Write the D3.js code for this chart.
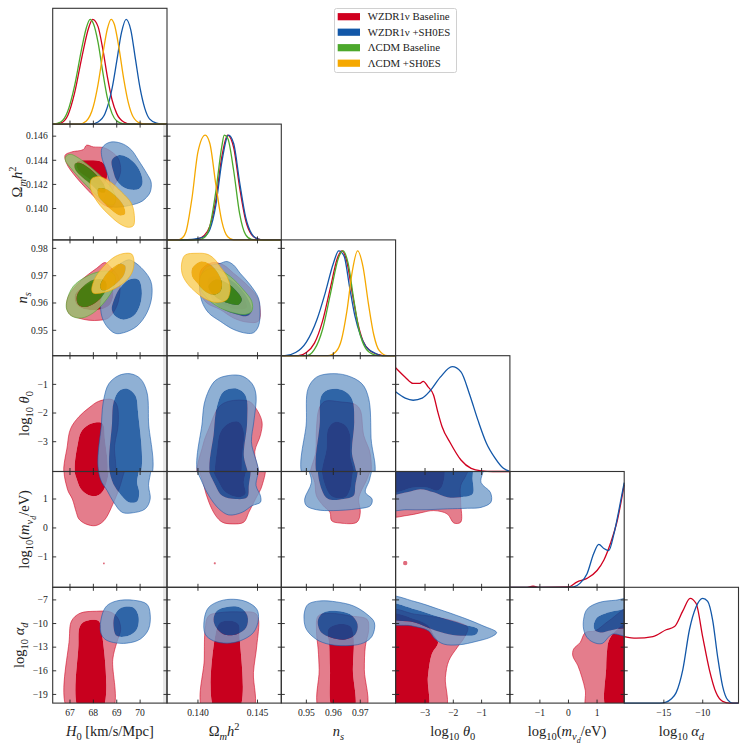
<!DOCTYPE html>
<html>
<head>
<meta charset="utf-8">
<title>WZDR1nu triangle plot</title>
<style>
  body { margin:0; background:#fff; }
  svg text { font-family: "Liberation Serif", "DejaVu Serif", serif; fill:#222; }
  .frame { fill:none; stroke:#333; stroke-width:1.1; }
  .tick { stroke:#222; stroke-width:0.9; }
  .ticklab { font-size:9.6px; }
  .axlab { font-size:14.5px; }
  .leg { font-size:10.8px; }
</style>
</head>
<body>
<script src="https://cdn.jsdelivr.net/npm/d3@7"></script>
<script>
// ---- parameters ----
var domains = [[66.26,71.15],[0.1374,0.1470],[0.9407,0.9831],[-4.04,0.0],[-2.05,1.95],[-20.1,-5.4]];
var xTicks = [[67,68,69,70],[0.140,0.145],[0.95,0.96,0.97],[-3,-2,-1],[-1,0,1],[-15,-10]];
var yTicks = [[],[0.140,0.142,0.144,0.146],[0.95,0.96,0.97,0.98],[-3,-2,-1],[-1,0,1],[-19,-16,-13,-10,-7]];
var tickFormats = ["d",".3f",".2f","d","d","d"];

var seriesNames = ["WZDR1\u03bd Baseline","WZDR1\u03bd +SH0ES","\u039bCDM Baseline","\u039bCDM +SH0ES"];
var innerColors = ["#c8001e","#0a4a98","#3c8a10","#eea600"];
var outerColors = ["#dd5c6f","#739cc9","#95c16f","#f9cd56"];
var lineColors = ["#d0001f","#1257a8","#4ca82c","#f5a800"];

// ---- 1D marginals [value, relative density] ----
var H0_pdf = [
 [[66.26,0],[66.6,0.01],[66.9,0.08],[67.2,0.3],[67.5,0.63],[67.8,0.92],[67.97,1],[68.2,0.93],[68.4,0.72],[68.6,0.45],[68.8,0.23],[69.0,0.1],[69.3,0.02],[69.6,0],[71.15,0]],
 [[66.26,0],[67.9,0],[68.2,0.02],[68.5,0.1],[68.8,0.34],[69.0,0.6],[69.2,0.87],[69.4,1],[69.6,0.9],[69.8,0.62],[70.0,0.34],[70.2,0.15],[70.4,0.05],[70.7,0.01],[71.0,0],[71.15,0]],
 [[66.26,0],[66.6,0.02],[66.9,0.12],[67.2,0.37],[67.5,0.72],[67.7,0.92],[67.86,1],[68.0,0.96],[68.2,0.78],[68.4,0.5],[68.6,0.25],[68.8,0.1],[69.0,0.03],[69.3,0.003],[69.6,0],[71.15,0]],
 [[66.26,0],[67.4,0],[67.7,0.03],[68.0,0.17],[68.2,0.38],[68.4,0.66],[68.6,0.91],[68.76,1],[68.9,0.95],[69.1,0.72],[69.3,0.43],[69.5,0.2],[69.7,0.07],[70.0,0.01],[70.3,0],[71.15,0]]
];
var Om_pdf = [
 [[0.1374,0],[0.1395,0],[0.1400,0.01],[0.1405,0.04],[0.1410,0.13],[0.1415,0.38],[0.1420,0.79],[0.14249,1],[0.1430,0.88],[0.1435,0.5],[0.1440,0.19],[0.1445,0.05],[0.1450,0.01],[0.1455,0],[0.1470,0]],
 [[0.1374,0],[0.1395,0.005],[0.1400,0.015],[0.1405,0.03],[0.1410,0.1],[0.1415,0.33],[0.1420,0.74],[0.14257,1],[0.1430,0.92],[0.1435,0.55],[0.1440,0.22],[0.1445,0.06],[0.1450,0.01],[0.1455,0],[0.1470,0]],
 [[0.1374,0],[0.1400,0],[0.1405,0.02],[0.1410,0.13],[0.1415,0.46],[0.1420,0.89],[0.14221,1],[0.1425,0.97],[0.1430,0.66],[0.1435,0.25],[0.1440,0.05],[0.1445,0.005],[0.1450,0],[0.1470,0]],
 [[0.1374,0],[0.1383,0],[0.1387,0.02],[0.1390,0.08],[0.1395,0.4],[0.1400,0.84],[0.14061,1],[0.1410,0.92],[0.1415,0.53],[0.1420,0.18],[0.1425,0.03],[0.1430,0],[0.1470,0]]
];
var ns_pdf = [
 [[0.9407,0],[0.947,0],[0.950,0.03],[0.953,0.12],[0.956,0.33],[0.959,0.66],[0.9615,0.93],[0.9632,1],[0.965,0.9],[0.967,0.6],[0.969,0.32],[0.971,0.14],[0.974,0.04],[0.977,0.01],[0.979,0],[0.9831,0]],
 [[0.9407,0],[0.942,0],[0.946,0.03],[0.950,0.13],[0.954,0.35],[0.957,0.6],[0.960,0.88],[0.962,1],[0.964,0.95],[0.966,0.66],[0.968,0.38],[0.970,0.2],[0.972,0.09],[0.975,0.03],[0.978,0],[0.9831,0]],
 [[0.9407,0],[0.950,0],[0.953,0.06],[0.956,0.25],[0.959,0.6],[0.962,0.94],[0.9636,1],[0.9655,0.88],[0.9675,0.55],[0.9695,0.25],[0.972,0.07],[0.975,0.01],[0.977,0],[0.9831,0]],
 [[0.9407,0],[0.958,0],[0.961,0.04],[0.963,0.15],[0.965,0.42],[0.967,0.8],[0.969,1],[0.971,0.85],[0.973,0.5],[0.975,0.2],[0.977,0.05],[0.980,0],[0.9831,0]]
];
var th_pdf = [
 [[-4.04,0.99],[-3.7,0.9],[-3.42,0.84],[-3.2,0.84],[-3.06,0.86],[-2.9,0.81],[-2.7,0.73],[-2.55,0.57],[-2.4,0.43],[-2.1,0.27],[-1.73,0.11],[-1.37,0.03],[-1.01,0.006],[-0.6,0],[0,0]],
 [[-4.04,0.76],[-3.7,0.7],[-3.42,0.68],[-3.1,0.7],[-2.82,0.77],[-2.46,0.9],[-2.04,1],[-1.73,0.95],[-1.43,0.74],[-1.13,0.49],[-0.83,0.27],[-0.53,0.13],[-0.23,0.03],[0,0]]
];
var mv_pdf = [
 [[-2.05,0],[-1.5,0],[-1.24,0.01],[-1.0,0],[0,0.003],[0.29,0.05],[0.65,0.085],[1.0,0.16],[1.24,0.26],[1.47,0.42],[1.71,0.64],[1.95,0.98]],
 [[-2.05,0],[0,0],[0.18,0.003],[0.41,0.04],[0.65,0.13],[0.88,0.32],[1.06,0.41],[1.24,0.37],[1.41,0.35],[1.59,0.51],[1.76,0.73],[1.95,1]]
];
var ad_pdf = [
 [[-20.1,0.635],[-18.55,0.62],[-16.41,0.635],[-14.7,0.7],[-13.63,0.73],[-12.56,0.88],[-11.62,1],[-10.85,0.95],[-10,0.63],[-9.15,0.32],[-8.29,0.1],[-7.44,0.016],[-6.58,0],[-5.4,0]],
 [[-20.1,0],[-15.5,0],[-14.7,0.01],[-14.06,0.04],[-13.42,0.1],[-12.56,0.32],[-11.71,0.7],[-10.85,0.92],[-10,1],[-9.36,0.97],[-8.72,0.79],[-8.08,0.44],[-7.44,0.16],[-6.79,0.03],[-6.15,0],[-5.4,0]]
];

// ---- 2D contours: [outer 95% polygon, inner 68% polygon], [x, y] in data units ----
// row Om, col H0
var H0_Om_red = [
 [[66.79,0.14442],[67.07,0.14469],[67.57,0.14489],[67.71,0.14525],[68.0,0.14511],[68.43,0.14505],[68.79,0.14469],[69.07,0.14414],[69.17,0.14316],[69.07,0.14247],[68.9,0.14191],[68.81,0.14122],[68.93,0.14038],[68.79,0.14011],[68.5,0.14025],[68.14,0.14080],[67.64,0.14177],[67.14,0.14289],[66.86,0.14372]],
 [[67.29,0.14386],[67.86,0.14400],[68.36,0.14386],[68.57,0.14330],[68.57,0.14247],[68.43,0.14191],[68.14,0.14205],[67.71,0.14261],[67.36,0.14316]]];
var H0_Om_blue = [
 [[68.36,0.14497],[68.57,0.14539],[68.86,0.14553],[69.29,0.14533],[69.64,0.14483],[69.93,0.14400],[70.29,0.14289],[70.47,0.14219],[70.43,0.14136],[70.21,0.14080],[70.0,0.14052],[69.71,0.14033],[69.29,0.14016],[68.93,0.14011],[68.64,0.14025],[68.5,0.14066],[68.57,0.14136],[68.71,0.14191],[68.64,0.14261],[68.5,0.14344],[68.36,0.14428]],
 [[68.79,0.14400],[69.07,0.14442],[69.43,0.14428],[69.79,0.14372],[70.04,0.14289],[70.1,0.14205],[69.96,0.14164],[69.64,0.14155],[69.29,0.14177],[69.0,0.14233],[68.86,0.14303]]];
var H0_Om_green = [
 [[66.81,0.14428],[67.0,0.14450],[67.29,0.14428],[67.79,0.14358],[68.36,0.14261],[68.79,0.14164],[68.96,0.14080],[68.86,0.14033],[68.57,0.14038],[68.07,0.14122],[67.5,0.14233],[67.0,0.14344],[66.81,0.14394]],
 [[67.21,0.14372],[67.43,0.14378],[67.79,0.14339],[68.21,0.14261],[68.5,0.14177],[68.5,0.14136],[68.29,0.14136],[67.86,0.14205],[67.43,0.14275],[67.21,0.14330]]];
var H0_Om_orange = [
 [[67.93,0.14247],[68.21,0.14266],[68.64,0.14233],[69.21,0.14136],[69.64,0.14038],[69.76,0.13913],[69.71,0.13858],[69.5,0.13844],[69.14,0.13872],[68.71,0.13941],[68.29,0.14025],[67.93,0.14136],[67.86,0.14205]],
 [[68.21,0.14164],[68.5,0.14164],[68.93,0.14108],[69.29,0.14025],[69.36,0.13955],[69.14,0.13941],[68.79,0.13983],[68.43,0.14052],[68.21,0.14108]]];

// row ns, col H0
var H0_ns_red = [
 [[66.93,0.9624],[67.43,0.9679],[68.14,0.9727],[68.5,0.9748],[68.71,0.9733],[69.07,0.9697],[69.14,0.9648],[69.0,0.9588],[68.64,0.9545],[68.29,0.9537],[67.79,0.9537],[67.36,0.9545],[67.0,0.9558],[66.86,0.9582]],
 [[67.21,0.9630],[67.71,0.9667],[68.29,0.9685],[68.71,0.9673],[68.86,0.9636],[68.71,0.9594],[68.29,0.9576],[67.71,0.9576],[67.29,0.9594]]];
var H0_ns_blue = [
 [[68.57,0.9685],[69.0,0.9733],[69.5,0.9758],[69.71,0.9752],[70.14,0.9721],[70.46,0.9679],[70.5,0.9624],[70.29,0.9564],[69.86,0.9515],[69.29,0.9491],[68.93,0.9489],[68.57,0.9515],[68.36,0.9552],[68.31,0.9600],[68.4,0.9642]],
 [[68.86,0.9606],[69.14,0.9655],[69.57,0.9687],[69.93,0.9685],[70.07,0.9648],[70.0,0.9594],[69.71,0.9552],[69.29,0.9539],[68.93,0.9552],[68.79,0.9576]]];
var H0_ns_green = [
 [[66.86,0.9606],[67.14,0.9661],[67.71,0.9697],[68.29,0.9715],[68.71,0.9715],[68.93,0.9697],[68.86,0.9655],[68.5,0.9606],[68.0,0.9564],[67.5,0.9545],[67.07,0.9552],[66.86,0.9576]],
 [[67.29,0.9624],[67.57,0.9661],[68.0,0.9685],[68.43,0.9685],[68.57,0.9667],[68.43,0.9630],[68.07,0.9600],[67.64,0.9585],[67.36,0.9594]]];
var H0_ns_orange = [
 [[67.93,0.9648],[68.07,0.9691],[68.43,0.9733],[68.93,0.9770],[69.36,0.9782],[69.64,0.9779],[69.74,0.9752],[69.64,0.9709],[69.29,0.9673],[68.79,0.9648],[68.29,0.9636],[68.0,0.9636]],
 [[68.29,0.9661],[68.43,0.9691],[68.79,0.9727],[69.14,0.9745],[69.36,0.9736],[69.31,0.9703],[69.0,0.9673],[68.57,0.9648],[68.36,0.9648]]];

// row ns, col Om
var Om_ns_red = [
 [[0.14020,0.9715],[0.14061,0.9736],[0.14131,0.9748],[0.14215,0.9739],[0.14299,0.9709],[0.14396,0.9673],[0.14494,0.9624],[0.14522,0.9576],[0.14508,0.9533],[0.14410,0.9530],[0.14299,0.9545],[0.14187,0.9576],[0.14075,0.9600],[0.14020,0.9636],[0.14014,0.9685]],
 [[0.14131,0.9667],[0.14215,0.9673],[0.14326,0.9648],[0.14396,0.9612],[0.14410,0.9582],[0.14354,0.9576],[0.14271,0.9582],[0.14173,0.9606],[0.14131,0.9636]]];
var Om_ns_blue = [
 [[0.14075,0.9733],[0.14187,0.9745],[0.14243,0.9752],[0.14299,0.9739],[0.14354,0.9709],[0.14438,0.9667],[0.14508,0.9618],[0.14522,0.9570],[0.14508,0.9515],[0.14466,0.9491],[0.14410,0.9489],[0.14299,0.9503],[0.14187,0.9533],[0.14089,0.9564],[0.14033,0.9606],[0.14014,0.9661],[0.14033,0.9709]],
 [[0.14089,0.9691],[0.14187,0.9697],[0.14271,0.9685],[0.14354,0.9655],[0.14424,0.9612],[0.14452,0.9570],[0.14410,0.9552],[0.14326,0.9558],[0.14215,0.9576],[0.14131,0.9606],[0.14089,0.9648]]];
var Om_ns_green = [
 [[0.14020,0.9697],[0.14075,0.9721],[0.14159,0.9724],[0.14271,0.9697],[0.14382,0.9648],[0.14452,0.9606],[0.14452,0.9570],[0.14396,0.9558],[0.14299,0.9564],[0.14187,0.9582],[0.14089,0.9612],[0.14020,0.9655]],
 [[0.14089,0.9661],[0.14145,0.9685],[0.14243,0.9673],[0.14326,0.9642],[0.14368,0.9612],[0.14340,0.9594],[0.14271,0.9597],[0.14187,0.9612],[0.14117,0.9636]]];
var Om_ns_orange = [
 [[0.13866,0.9752],[0.13894,0.9776],[0.13992,0.9782],[0.14075,0.9779],[0.14131,0.9764],[0.14187,0.9733],[0.14243,0.9697],[0.14271,0.9655],[0.14243,0.9612],[0.14159,0.9602],[0.14075,0.9612],[0.13992,0.9636],[0.13908,0.9673],[0.13866,0.9709]],
 [[0.13950,0.9727],[0.14020,0.9752],[0.14089,0.9745],[0.14159,0.9715],[0.14201,0.9673],[0.14187,0.9642],[0.14131,0.9630],[0.14061,0.9642],[0.13992,0.9673],[0.13950,0.9697]]];

// row log10 theta0
var H0_th_red = [
 [[66.84,-4.3],[66.89,-3.12],[67.03,-2.54],[67.38,-2.13],[67.81,-1.82],[68.23,-1.59],[68.8,-1.53],[69.01,-1.73],[69.06,-2.42],[68.91,-3.12],[68.83,-4.3]],
 [[67.31,-4.3],[67.35,-3.0],[67.52,-2.6],[67.95,-2.36],[68.38,-2.36],[68.49,-2.88],[68.49,-4.3]]];
var H0_th_blue = [
 [[68.38,-4.3],[68.35,-2.31],[68.45,-1.5],[68.66,-0.98],[69.09,-0.69],[69.58,-0.63],[70.01,-0.8],[70.29,-1.27],[70.36,-2.31],[70.39,-4.3]],
 [[68.83,-4.3],[68.8,-2.31],[68.87,-1.61],[69.09,-1.24],[69.44,-1.15],[69.79,-1.38],[69.91,-1.96],[69.91,-4.3]]];
var Om_th_red = [
 [[0.14008,-4.3],[0.14042,-3.12],[0.14092,-2.54],[0.14176,-1.79],[0.14259,-1.59],[0.14427,-1.59],[0.14488,-1.84],[0.14538,-2.31],[0.14525,-2.77],[0.14477,-3.35],[0.14497,-4.3]],
 [[0.14162,-4.3],[0.14162,-3.23],[0.1419,-2.65],[0.14259,-2.36],[0.14343,-2.31],[0.14385,-2.65],[0.14371,-3.46],[0.14343,-4.3]]];
var Om_th_blue = [
 [[0.14022,-4.3],[0.14036,-2.31],[0.14064,-1.5],[0.14148,-0.86],[0.14259,-0.69],[0.14371,-0.71],[0.14455,-0.98],[0.14488,-1.38],[0.14469,-2.31],[0.14449,-3.0],[0.14497,-4.3]],
 [[0.1412,-4.3],[0.14134,-2.65],[0.14162,-1.73],[0.14218,-1.24],[0.14329,-1.15],[0.14399,-1.38],[0.14413,-2.31],[0.14385,-3.46],[0.14413,-4.3]]];
var ns_th_red = [
 [[0.95188,-4.3],[0.9535,-3.35],[0.95375,-2.54],[0.95475,-1.84],[0.95688,-1.59],[0.9625,-1.61],[0.96813,-1.7],[0.97,-1.9],[0.97125,-2.77],[0.97375,-3.46],[0.97275,-4.3]],
 [[0.95625,-4.3],[0.9575,-3.23],[0.95813,-2.54],[0.96063,-2.31],[0.96438,-2.42],[0.96625,-2.77],[0.96625,-3.46],[0.9675,-4.3]]];
var ns_th_blue = [
 [[0.94938,-4.3],[0.95,-2.31],[0.95063,-1.15],[0.95375,-0.75],[0.95875,-0.63],[0.965,-0.69],[0.97063,-0.98],[0.97313,-1.5],[0.974,-2.88],[0.97438,-4.3]],
 [[0.95475,-4.3],[0.955,-2.31],[0.95563,-1.38],[0.95875,-1.17],[0.96375,-1.21],[0.96688,-1.5],[0.96775,-2.31],[0.96688,-3.35],[0.96813,-4.3]]];

// row log10 m_nu_d
var H0_mv_red = [
 [[66.84,2.2],[66.89,1.34],[67.1,1.0],[67.27,0.54],[67.38,0.31],[67.67,0.14],[68.09,0.08],[68.45,0.25],[68.87,0.89],[69.23,1.69],[69.3,2.2]],
 [[67.21,2.2],[67.31,1.63],[67.52,1.29],[67.88,1.11],[68.23,1.14],[68.49,1.4],[68.59,2.2]]];
var H0_mv_blue = [
 [[68.28,2.2],[68.3,1.69],[68.59,1.29],[68.87,0.89],[69.23,0.54],[69.65,0.52],[70.22,0.66],[70.43,1.0],[70.36,1.46],[70.39,2.2]],
 [[68.73,2.2],[68.8,1.63],[69.09,1.23],[69.51,0.89],[69.87,0.91],[69.96,1.23],[69.87,1.57],[69.91,2.2]]];
var Om_mv_red = [
 [[0.14022,2.2],[0.1405,1.46],[0.14092,0.89],[0.14148,0.43],[0.14204,0.2],[0.14287,0.14],[0.14385,0.2],[0.14427,0.54],[0.14483,1.0],[0.14538,1.46],[0.14552,2.2]],
 [[0.1412,2.2],[0.14176,1.57],[0.14232,1.23],[0.14343,1.06],[0.14399,1.17],[0.14385,1.57],[0.14399,2.2]]];
var Om_mv_blue = [
 [[0.13994,2.2],[0.14036,1.57],[0.14092,1.11],[0.14176,0.66],[0.14259,0.45],[0.14371,0.54],[0.14455,0.77],[0.14525,0.89],[0.14525,1.11],[0.14488,1.46],[0.14497,2.2]],
 [[0.14092,2.2],[0.14148,1.46],[0.14204,1.11],[0.14315,1.0],[0.14413,1.06],[0.14427,1.46],[0.14427,2.2]]];
var ns_mv_red = [
 [[0.9515,2.2],[0.95313,1.57],[0.95375,1.11],[0.95625,0.77],[0.95875,0.54],[0.95938,0.25],[0.9625,0.17],[0.96875,0.2],[0.97,0.54],[0.96938,1.0],[0.97063,1.34],[0.9725,1.69],[0.9735,2.2]],
 [[0.95625,2.2],[0.9575,1.34],[0.96,1.06],[0.96438,1.06],[0.96625,1.34],[0.96688,1.69],[0.96688,2.2]]];
var ns_mv_blue = [
 [[0.95125,2.2],[0.95188,1.57],[0.94938,1.0],[0.95,0.77],[0.95375,0.63],[0.96,0.6],[0.96875,0.66],[0.97375,0.77],[0.97438,1.0],[0.97188,1.23],[0.9735,1.69],[0.97375,2.2]],
 [[0.955,2.2],[0.95563,1.34],[0.95813,1.0],[0.96375,1.0],[0.9675,1.11],[0.96813,1.46],[0.9685,2.2]]];
var th_mv_red = [
 [[-4.3,2.2],[-4.3,0.43],[-3.64,0.43],[-3.17,0.52],[-2.69,0.6],[-2.21,0.48],[-1.98,0.17],[-1.74,0.2],[-1.74,0.89],[-1.74,1.46],[-1.56,1.8],[-1.44,2.2]],
 [[-4.3,2.2],[-4.3,1.23],[-3.4,1.4],[-2.93,1.4],[-2.57,1.29],[-2.39,1.46],[-2.39,2.2]]];
var th_mv_blue = [
 [[-4.3,2.2],[-4.3,0.66],[-3.64,0.63],[-2.93,0.63],[-2.21,0.66],[-1.5,0.68],[-1.02,0.71],[-0.67,0.89],[-0.69,1.23],[-1.02,1.57],[-0.96,2.2]],
 [[-4.3,2.2],[-4.3,1.17],[-3.64,1.23],[-3.17,1.34],[-2.69,1.23],[-2.21,1.06],[-1.74,1.06],[-1.32,1.17],[-1.32,1.69],[-1.38,2.2]]];
// small isolated 95% islands of the red posterior
var mv_islands_red = [
 {col:0, pts:[[68.42,-1.2],[68.48,-1.2],[68.48,-1.25],[68.42,-1.25]]},
 {col:1, pts:[[0.14135,-1.19],[0.14148,-1.19],[0.14148,-1.25],[0.14135,-1.25]]},
 {col:3, pts:[[-3.76,-1.16],[-3.64,-1.16],[-3.64,-1.27],[-3.76,-1.27]]}
];

// row log10 alpha_d
var H0_ad_red = [
 [[66.93,-21],[66.97,-11.99],[67.07,-9.66],[67.43,-8.69],[68.14,-8.44],[68.71,-8.52],[69.03,-9.24],[69.17,-10.72],[69.0,-12.41],[68.83,-14.52],[68.79,-21]],
 [[67.4,-21],[67.36,-12.83],[67.43,-10.3],[67.71,-9.66],[68.21,-9.66],[68.36,-11.14],[68.36,-21]]];
var H0_ad_blue = [
 [[68.31,-11.14],[68.36,-9.03],[68.57,-7.76],[69.0,-7.13],[69.71,-7.04],[70.29,-7.55],[70.43,-8.82],[70.36,-10.72],[70.0,-11.99],[69.43,-12.49],[68.86,-12.41],[68.5,-11.99]],
 [[68.86,-10.3],[68.93,-8.82],[69.21,-7.97],[69.71,-7.97],[69.93,-9.03],[69.86,-10.72],[69.5,-11.56],[69.0,-11.56]]];
var Om_ad_red = [
 [[0.14047,-21],[0.14053,-14.52],[0.14061,-10.72],[0.14089,-9.03],[0.14187,-8.61],[0.14354,-8.52],[0.1448,-8.69],[0.14508,-9.45],[0.14494,-12.83],[0.14466,-16.21],[0.14458,-21]],
 [[0.14145,-21],[0.14145,-11.56],[0.14187,-9.87],[0.14271,-9.66],[0.1434,-10.08],[0.14349,-11.56],[0.1434,-21]]];
var Om_ad_blue = [
 [[0.14053,-9.45],[0.14089,-7.97],[0.14187,-7.13],[0.14299,-6.92],[0.1441,-7.25],[0.14494,-8.18],[0.14508,-9.45],[0.14466,-11.14],[0.14354,-12.2],[0.14243,-12.49],[0.14131,-12.2],[0.14061,-11.35]],
 [[0.14131,-9.45],[0.14159,-8.39],[0.14243,-7.89],[0.14354,-7.97],[0.14416,-9.03],[0.14405,-10.51],[0.14326,-11.35],[0.14215,-11.35],[0.14153,-10.51]]];
var ns_ad_red = [
 [[0.955,-21],[0.95475,-15.85],[0.95438,-13.3],[0.95375,-10.96],[0.95438,-9.04],[0.95875,-8.7],[0.96625,-9.04],[0.9725,-9.47],[0.97313,-10.74],[0.97188,-12.87],[0.9715,-15.85],[0.97188,-21]],
 [[0.96,-21],[0.95875,-15.85],[0.9585,-12.87],[0.95813,-10.74],[0.96125,-10.11],[0.96625,-10.32],[0.9675,-11.6],[0.96725,-15.85],[0.9675,-21]]];
var ns_ad_blue = [
 [[0.94938,-8.4],[0.95063,-7.55],[0.955,-7.13],[0.96125,-7.26],[0.9675,-7.77],[0.9725,-8.83],[0.97525,-9.89],[0.97438,-11.6],[0.97125,-12.45],[0.96625,-12.79],[0.95875,-12.66],[0.95375,-12.02],[0.95,-10.74],[0.94913,-9.47]],
 [[0.95438,-9.47],[0.95625,-8.62],[0.96125,-8.4],[0.96625,-8.83],[0.969,-10.11],[0.96813,-11.38],[0.96438,-12.02],[0.95938,-11.81],[0.95563,-11.18],[0.95438,-10.32]]];
var th_ad_red = [
 [[-4.3,-8.39],[-3.36,-8.81],[-2.52,-9.24],[-1.8,-9.87],[-1.49,-10.5],[-1.61,-11.77],[-1.86,-13.03],[-2.16,-14.72],[-2.28,-16.83],[-2.3,-21],[-4.3,-21]],
 [[-4.3,-8.9],[-3.36,-9.45],[-2.88,-10.29],[-2.7,-11.35],[-2.54,-12.4],[-2.76,-13.88],[-2.9,-16.83],[-2.94,-21],[-4.3,-21]]];
var th_ad_blue = [
 [[-4.3,-6.62],[-3.36,-7.21],[-2.52,-8.18],[-1.67,-9.24],[-0.95,-10.29],[-0.47,-11.14],[-0.65,-11.68],[-1.19,-12.27],[-1.8,-12.7],[-2.34,-12.61],[-2.66,-11.89],[-2.88,-10.92],[-3.48,-10.29],[-4.3,-9.87]],
 [[-4.3,-7.46],[-3.36,-8.18],[-2.52,-9.15],[-1.67,-10.08],[-1.13,-10.71],[-1.19,-11.35],[-1.55,-11.56],[-2.16,-11.35],[-2.76,-10.71],[-3.36,-9.87],[-4.3,-9.24]]];
var mv_ad_red = [
 [[2.2,-7.97],[1.41,-9.66],[0.94,-10.92],[0.59,-11.14],[0.41,-12.4],[0.18,-13.24],[0.15,-14.09],[0.33,-15.35],[0.47,-16.83],[0.59,-18.52],[0.65,-21],[2.2,-21]],
 [[2.2,-9.66],[1.65,-10.92],[1.41,-12.19],[1.35,-13.46],[1.32,-15.57],[1.35,-21],[2.2,-21]]];
var mv_ad_blue = [
 [[0.53,-9.45],[0.65,-8.18],[1.06,-7.34],[1.65,-7.04],[2.2,-6.92],[2.2,-11.56],[1.53,-11.35],[1.18,-12.53],[0.88,-12.4],[0.65,-11.77],[0.53,-10.71]],
 [[0.88,-10.29],[1.0,-9.24],[1.29,-8.73],[1.65,-8.39],[2.2,-8.18],[2.2,-10.29],[1.65,-10.71],[1.41,-10.92],[1.18,-11.14],[0.94,-10.92]]];

// ---- layout ----
var W = 747, H = 747;
var x0 = 52.7, colW = 114.3, y0 = 8.3, rowH = 115.8, tickLen = 3.5;
var outerAlpha = 0.8, innerAlpha = [1.0, 0.85, 0.9, 0.9];
var yLabelX = [0, 21.5, 26.5, 29, 29, 24];

// table of 2D panels built from the arrays above: row, col, series index -> contours
var panels = [
 {r:1,c:0,s:[H0_Om_red,H0_Om_blue,H0_Om_green,H0_Om_orange]},
 {r:2,c:0,s:[H0_ns_red,H0_ns_blue,H0_ns_green,H0_ns_orange]},
 {r:2,c:1,s:[Om_ns_red,Om_ns_blue,Om_ns_green,Om_ns_orange]},
 {r:3,c:0,s:[H0_th_red,H0_th_blue]},
 {r:3,c:1,s:[Om_th_red,Om_th_blue]},
 {r:3,c:2,s:[ns_th_red,ns_th_blue]},
 {r:4,c:0,s:[H0_mv_red,H0_mv_blue]},
 {r:4,c:1,s:[Om_mv_red,Om_mv_blue]},
 {r:4,c:2,s:[ns_mv_red,ns_mv_blue]},
 {r:4,c:3,s:[th_mv_red,th_mv_blue]},
 {r:5,c:0,s:[H0_ad_red,H0_ad_blue]},
 {r:5,c:1,s:[Om_ad_red,Om_ad_blue]},
 {r:5,c:2,s:[ns_ad_red,ns_ad_blue]},
 {r:5,c:3,s:[th_ad_red,th_ad_blue]},
 {r:5,c:4,s:[mv_ad_red,mv_ad_blue]}
];
var diag = [H0_pdf, Om_pdf, ns_pdf, th_pdf, mv_pdf, ad_pdf];

var xs = domains.map(function(d,i){ return d3.scaleLinear().domain(d).range([x0+i*colW, x0+(i+1)*colW]); });
var ys = domains.map(function(d,i){ return d3.scaleLinear().domain(d).range([y0+(i+1)*rowH, y0+i*rowH]); });
var yd = domains.map(function(d,i){ return d3.scaleLinear().domain([0,1.105]).range([y0+(i+1)*rowH, y0+i*rowH]); });

var svg = d3.select("body").append("svg")
    .attr("width", W).attr("height", H);

// faint grey band seen at the right edge of the first column
svg.append("rect").attr("x", x0+colW-4).attr("y", y0+rowH).attr("width", 3.5)
    .attr("height", 5*rowH).attr("fill", "#e6e6e6");

var contourLine = d3.line().curve(d3.curveCatmullRomClosed.alpha(0.5));

panels.forEach(function(p){
    var sx = xs[p.c], sy = ys[p.r];
    var id = "clip" + p.r + p.c;
    svg.append("clipPath").attr("id", id).append("rect")
        .attr("x", sx.range()[0]).attr("y", sy.range()[1])
        .attr("width", colW).attr("height", rowH);
    var g = svg.append("g").attr("clip-path", "url(#" + id + ")");
    function pth(pts){ return contourLine(pts.map(function(q){ return [sx(q[0]), sy(q[1])]; })); }
    p.s.forEach(function(lv, k){
        g.append("path").attr("d", pth(lv[0]) + pth(lv[1]))
            .attr("fill-rule", "evenodd").attr("fill", outerColors[k]).attr("fill-opacity", outerAlpha);
        g.append("path").attr("d", pth(lv[1]))
            .attr("fill", innerColors[k]).attr("fill-opacity", innerAlpha[k]);
        g.append("path").attr("d", pth(lv[0])).attr("fill", "none")
            .attr("stroke", lineColors[k]).attr("stroke-width", 0.8).attr("stroke-opacity", 0.7);
        if (k === 0 && p.r === 4) {
            mv_islands_red.filter(function(m){ return m.col === p.c; }).forEach(function(m){
                g.append("path").attr("d", pth(m.pts)).attr("fill", outerColors[0]).attr("fill-opacity", 0.9);
            });
        }
    });
});

// 1D marginals
diag.forEach(function(curves, i){
    curves.forEach(function(pts, k){
        var ln = d3.line().curve(d3.curveMonotoneX)
            .x(function(q){ return xs[i](q[0]); })
            .y(function(q){ return yd[i](q[1]); });
        svg.append("path").attr("d", ln(pts)).attr("fill", "none")
            .attr("stroke", lineColors[k]).attr("stroke-width", 1.3);
    });
});

// frames and ticks
function addTicks(r, c, isDiag){
    var sx = xs[c], sy = ys[r];
    var L = sx.range()[0], R = sx.range()[1], T = sy.range()[1], B = sy.range()[0];
    svg.append("rect").attr("class", "frame").attr("x", L).attr("y", T).attr("width", colW).attr("height", rowH);
    xTicks[c].forEach(function(v){
        svg.append("line").attr("class","tick").attr("x1", sx(v)).attr("x2", sx(v)).attr("y1", B).attr("y2", B - tickLen);
        if (!isDiag) svg.append("line").attr("class","tick").attr("x1", sx(v)).attr("x2", sx(v)).attr("y1", T).attr("y2", T + tickLen);
    });
    yTicks[r].forEach(function(v){
        svg.append("line").attr("class","tick").attr("x1", L).attr("x2", L + tickLen).attr("y1", sy(v)).attr("y2", sy(v));
        if (!isDiag) svg.append("line").attr("class","tick").attr("x1", R).attr("x2", R - tickLen).attr("y1", sy(v)).attr("y2", sy(v));
    });
}
for (var r = 0; r < 6; r++) for (var c = 0; c <= r; c++) addTicks(r, c, r === c);

// tick labels
xTicks.forEach(function(tv, c){
    var f = d3.format(tickFormats[c]);
    tv.forEach(function(v){
        svg.append("text").attr("class","ticklab").attr("x", xs[c](v)).attr("y", y0 + 6*rowH + 13)
            .attr("text-anchor","middle").text(f(v));
    });
});
yTicks.forEach(function(tv, r){
    var f = d3.format(tickFormats[r]);
    tv.forEach(function(v){
        svg.append("text").attr("class","ticklab").attr("x", x0 - 5).attr("y", ys[r](v) + 3.3)
            .attr("text-anchor","end").text(f(v));
    });
});

// math-like axis labels
var labels = [
 [["H","i"],["0","sub"],[" [km/s/Mpc]",""]],
 [["\u03a9",""],["m","isub"],["h","i"],["2","sup"]],
 [["n","i"],["s","isub"]],
 [["log",""],["10","sub"],[" \u03b8","i"],["0","sub"]],
 [["log",""],["10","sub"],["(",""],["m","i"],["\u03bd","isub"],["d","isub2"],["/eV)",""]],
 [["log",""],["10","sub"],[" \u03b1","i"],["d","isub"]]
];
function mathText(t, segs, fs){
    var cur = 0;
    segs.forEach(function(s){
        var st = s[1], target = 0, size = fs, it = false;
        if (st === "i") it = true;
        if (st === "sub" || st === "isub") { target = 0.28*fs; size = 0.72*fs; it = st === "isub"; }
        if (st === "isub2") { target = 0.45*fs; size = 0.55*fs; it = true; }
        if (st === "sup") { target = -0.4*fs; size = 0.72*fs; }
        t.append("tspan").attr("dy", target - cur).attr("font-size", size)
            .attr("font-style", it ? "italic" : "normal").text(s[0]);
        cur = target;
    });
}
labels.forEach(function(segs, i){
    var t = svg.append("text").attr("class","axlab").attr("text-anchor","middle")
        .attr("x", (xs[i].range()[0] + xs[i].range()[1]) / 2).attr("y", y0 + 6*rowH + 33);
    mathText(t, segs, 14.5);
    if (i > 0) {
        var cy = (ys[i].range()[0] + ys[i].range()[1]) / 2;
        var ty = svg.append("text").attr("class","axlab").attr("text-anchor","middle")
            .attr("transform", "translate(" + yLabelX[i] + "," + cy + ") rotate(-90)");
        mathText(ty, segs, 14.5);
    }
});

// legend
var lg = svg.append("g");
lg.append("rect").attr("x", 334.5).attr("y", 8.5).attr("width", 122).attr("height", 64)
    .attr("rx", 2).attr("fill", "#fff").attr("stroke", "#d0d0d0");
seriesNames.forEach(function(n, k){
    var yy = 16.7 + k*15.5;
    lg.append("rect").attr("x", 337.7).attr("y", yy - 3.6).attr("width", 22.3).attr("height", 7.2)
        .attr("fill", lineColors[k]);
    lg.append("text").attr("class","leg").attr("x", 367.7).attr("y", yy + 3.6).text(n);
});
</script>
</body>
</html>
